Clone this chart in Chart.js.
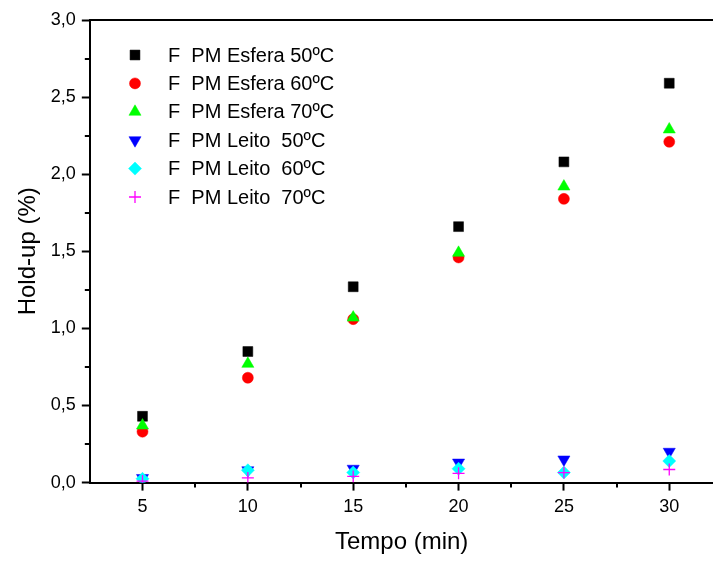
<!DOCTYPE html>
<html>
<head>
<meta charset="utf-8">
<script src="https://cdn.jsdelivr.net/npm/chart.js@4.4.0/dist/chart.umd.min.js"></script>
<style>
    html, body { margin: 0; padding: 0; background: #fff; overflow: hidden; }
    #wrap { width: 713px; height: 561px; overflow: hidden; }
</style>
</head>
<body>
<div id="wrap"><canvas id="holdupChart" width="721" height="561"></canvas></div>
<script>
// Tempo (min) vs Hold-up (%)
const tempo = [5, 10, 15, 20, 25, 30];
const esfera50 = [0.43, 0.85, 1.27, 1.66, 2.08, 2.59];
const esfera60 = [0.33, 0.68, 1.06, 1.46, 1.84, 2.21];
const esfera70 = [0.37, 0.77, 1.07, 1.49, 1.92, 2.29];
const leito50 = [0.03, 0.08, 0.09, 0.13, 0.15, 0.20];
const leito60 = [0.025, 0.08, 0.065, 0.09, 0.065, 0.14];
const leito70 = [0.01, 0.03, 0.04, 0.06, 0.065, 0.085];

const seriesLabels = [
    'F  PM Esfera 50ºC',
    'F  PM Esfera 60ºC',
    'F  PM Esfera 70ºC',
    'F  PM Leito  50ºC',
    'F  PM Leito  60ºC',
    'F  PM Leito  70ºC'
];

const xTicks = [5, 10, 15, 20, 25, 30];
const xMinorTicks = [7.5, 12.5, 17.5, 22.5, 27.5];
const yTicks = [0, 0.5, 1, 1.5, 2, 2.5, 3];
const yMinorTicks = [0.25, 0.75, 1.25, 1.75, 2.25, 2.75];

const FONT = "'Liberation Sans', Arial, Helvetica, sans-serif";

function points(values) {
    return tempo.map((t, i) => ({ x: t, y: values[i] }));
}

function makeDataset(i, values, color, style, radius, rotation) {
    return {
        label: seriesLabels[i],
        data: points(values),
        backgroundColor: color,
        borderColor: color,
        borderWidth: style === 'cross' ? 1.3 : 0.5,
        pointStyle: style,
        pointRadius: radius,
        pointRotation: rotation || 0,
        order: 6 - i
    };
}

// legend drawn inside the plot, top left
const insideLegend = {
    id: 'insideLegend',
    afterDatasetsDraw(chart) {
        const ctx = chart.ctx;
        ctx.save();
        ctx.font = '20px ' + FONT;
        ctx.textBaseline = 'middle';
        ctx.textAlign = 'left';
        chart.data.datasets.forEach((ds, i) => {
            const y = 55 + i * 28.4;
            ctx.fillStyle = ds.backgroundColor;
            ctx.strokeStyle = ds.borderColor;
            ctx.lineWidth = ds.borderWidth;
            Chart.helpers.drawPoint(ctx, {
                pointStyle: ds.pointStyle,
                radius: ds.pointRadius,
                rotation: ds.pointRotation,
                borderWidth: ds.borderWidth
            }, 135, y);
            ctx.fillStyle = '#000';
            ctx.fillText(ds.label, 168, y + 1);
        });
        ctx.restore();
    }
};

// top frame line and minor ticks
const frameAndMinor = {
    id: 'frameAndMinor',
    afterDraw(chart) {
        const ctx = chart.ctx;
        const area = chart.chartArea;
        const xs = chart.scales.x;
        const ys = chart.scales.y;
        ctx.save();
        ctx.strokeStyle = '#000';
        ctx.lineWidth = 2;
        ctx.beginPath();
        ctx.moveTo(area.left, area.top);
        ctx.lineTo(chart.width, area.top);
        ctx.stroke();
        ctx.beginPath();
        xMinorTicks.forEach(v => {
            const px = Math.round(xs.getPixelForValue(v));
            ctx.moveTo(px, area.bottom);
            ctx.lineTo(px, area.bottom + 5);
        });
        yMinorTicks.forEach(v => {
            const py = Math.round(ys.getPixelForValue(v));
            ctx.moveTo(area.left, py);
            ctx.lineTo(area.left - 5, py);
        });
        ctx.stroke();
        ctx.restore();
    }
};

const ctx = document.getElementById('holdupChart').getContext('2d');
new Chart(ctx, {
    type: 'scatter',
    data: {
        datasets: [
            makeDataset(0, esfera50, '#000000', 'rect', 7),
            makeDataset(1, esfera60, '#ff0000', 'circle', 5.5),
            makeDataset(2, esfera70, '#00ff00', 'triangle', 7),
            makeDataset(3, leito50, '#0000ff', 'triangle', 7, 180),
            makeDataset(4, leito60, '#00ffff', 'rectRot', 6.5),
            makeDataset(5, leito70, '#ff00ff', 'cross', 6)
        ]
    },
    options: {
        responsive: false,
        animation: false,
        layout: { padding: { left: 14, top: 20, right: 0, bottom: 4 } },
        plugins: {
            legend: { display: false },
            tooltip: { enabled: false }
        },
        scales: {
            x: {
                type: 'linear',
                min: 2.5,
                max: 32.1,
                afterBuildTicks: scale => { scale.ticks = xTicks.map(v => ({ value: v })); },
                grid: { display: true, drawOnChartArea: false, drawTicks: true, tickLength: 8, tickColor: '#000', tickWidth: 2 },
                border: { display: true, color: '#000', width: 2 },
                ticks: { color: '#000', font: { family: FONT, size: 18 }, padding: 6, maxRotation: 0 },
                title: { display: true, text: 'Tempo (min)', color: '#000', font: { family: FONT, size: 24 }, padding: { top: 4, bottom: 0 } }
            },
            y: {
                type: 'linear',
                min: 0,
                max: 3,
                afterBuildTicks: scale => { scale.ticks = yTicks.map(v => ({ value: v })); },
                grid: { display: true, drawOnChartArea: false, drawTicks: true, tickLength: 8, tickColor: '#000', tickWidth: 2 },
                border: { display: true, color: '#000', width: 2 },
                ticks: {
                    color: '#000',
                    font: { family: FONT, size: 18 },
                    padding: 6,
                    callback: v => v.toFixed(1).replace('.', ',')
                },
                title: { display: true, text: 'Hold-up (%)', color: '#000', font: { family: FONT, size: 24 }, padding: { top: 0, bottom: 2 } }
            }
        }
    },
    plugins: [insideLegend, frameAndMinor]
});
</script>
</body>
</html>
